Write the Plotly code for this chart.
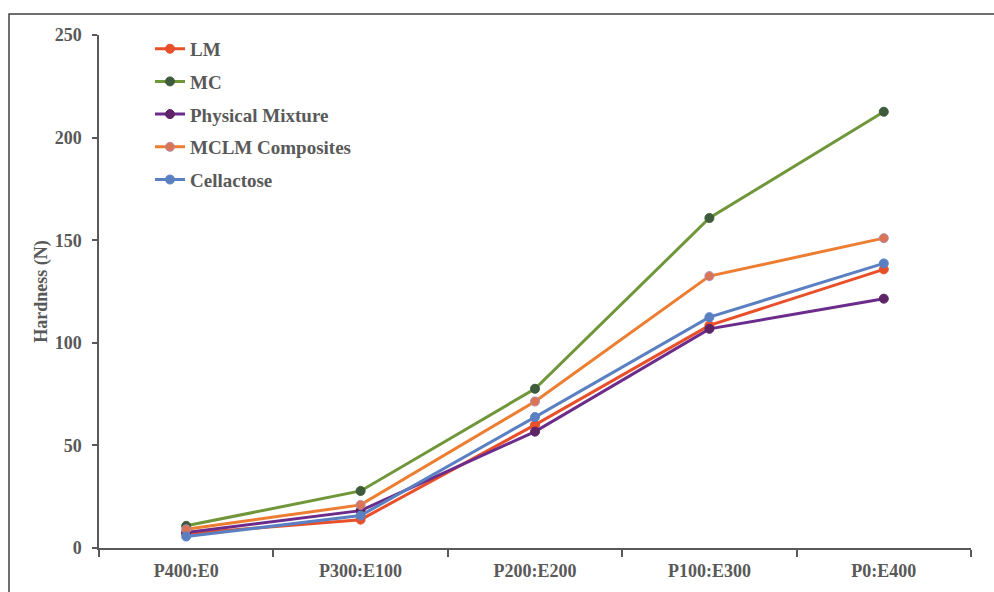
import plotly.graph_objects as go

categories = ["P400:E0", "P300:E100", "P200:E200", "P100:E300", "P0:E400"]
series_names = ["LM", "MC", "Physical Mixture", "MCLM Composites", "Cellactose"]
lm = [7.0, 13.8, 60.0, 108.5, 135.8]
mc = [10.8, 27.8, 77.6, 160.8, 212.6]
physical_mixture = [7.5, 18.2, 56.7, 106.8, 121.5]
mclm = [9.1, 21.0, 71.4, 132.5, 151.0]
cellactose = [5.6, 15.8, 63.8, 112.5, 138.7]
y_ticks = [0, 50, 100, 150, 200, 250]

values = [lm, mc, physical_mixture, mclm, cellactose]
line_colors = ["#E8502A", "#70963A", "#6B2C8C", "#ED7D31", "#5B80C2"]
marker_colors = ["#E8502A", "#3E5B3C", "#5E2466", "#DA7452", "#5B80C2"]
marker_lines = ["#E8502A", "#3E5B3C", "#5E2466", "#B08BB0", "#5B80C2"]

FONT = "Liberation Serif"
GRAY = "#595959"

fig = go.Figure()
for i, (name, vals) in enumerate(zip(series_names, values)):
    fig.add_trace(go.Scatter(
        x=categories, y=vals, name=name, mode="lines+markers",
        legendgroup=name,
        line=dict(color=line_colors[i], width=3),
        marker=dict(color=marker_colors[i], size=9,
                    line=dict(color=marker_lines[i], width=1)),
    ))

L, R, T, B = 99, 23, 35, 44
W, H = 994, 592
pw, ph = W - L - R, H - T - B

fig.update_layout(
    width=W, height=H,
    margin=dict(l=L, r=R, t=T, b=B),
    paper_bgcolor="white", plot_bgcolor="white",
    font=dict(family=FONT, size=18, color=GRAY),
    showlegend=True,
    legend=dict(x=(150 - L) / pw, y=1.01, xanchor="left", yanchor="top",
                bgcolor="rgba(0,0,0,0)", tracegroupgap=5,
                font=dict(family=FONT, size=19, color=GRAY, weight="bold")),
    xaxis=dict(type="category", range=[-0.5, 4.5], tickson="boundaries",
               ticks="outside", ticklen=7, tickcolor=GRAY, tickwidth=1.5,
               showline=True, linecolor=GRAY, linewidth=1.5, showgrid=False,
               ticklabelstandoff=6,
               tickfont=dict(family=FONT, size=18, color=GRAY, weight="bold"),
               zeroline=False),
    yaxis=dict(range=[0, 250], tickvals=y_ticks, ticks="outside", ticklen=5,
               tickcolor=GRAY, tickwidth=1.5, showline=True, linecolor=GRAY,
               linewidth=1.5, showgrid=False, zeroline=False,
               ticklabelstandoff=7,
               tickfont=dict(family=FONT, size=18, color=GRAY, weight="bold"),
               title=dict(text="Hardness (N)", standoff=2,
                          font=dict(family=FONT, size=18, color=GRAY, weight="bold"))),
)

# outer frame
fig.add_shape(type="rect", xref="paper", yref="paper",
              x0=(9 - L) / pw, x1=(1000 - L) / pw,
              y0=(ph + T - 600) / ph, y1=1 + (T - 14) / ph,
              line=dict(color="#404040", width=1.5), layer="below")

fig.write_html("out.html")
